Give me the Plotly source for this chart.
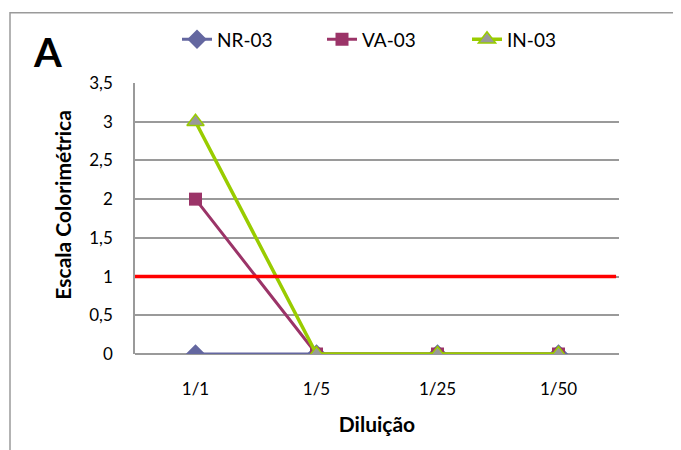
import plotly.graph_objects as go

categories = ["1/1", "1/5", "1/25", "1/50"]
nr03 = [0, 0, 0, 0]
va03 = [2, 0, 0, 0]
in03 = [3, 0, 0, 0]
threshold = 1

FONT = "Lato"
OFF = 8  # page body offset
W, H = 681 - OFF, 450 - OFF
L, T = 135 - OFF, 80 - OFF
R, B = 62, 96
pw, ph = W - L - R, H - T - B


def px(xp):  # page x -> paper x
    return (xp - OFF - L) / pw


def py(yp):  # page y -> paper y
    return (H - B - (yp - OFF)) / ph


fig = go.Figure()
fig.add_trace(go.Scatter(x=categories, y=nr03, name="NR-03", mode="lines+markers",
                         line=dict(color="#6467A0", width=3),
                         marker=dict(symbol="diamond", size=15, color="#6467A0")))
fig.add_trace(go.Scatter(x=categories, y=va03, name="VA-03", mode="lines+markers",
                         line=dict(color="#9B3468", width=3),
                         marker=dict(symbol="square", size=13, color="#9B3468")))
fig.add_trace(go.Scatter(x=categories, y=in03, name="IN-03", mode="lines+markers",
                         line=dict(color="#99CC00", width=3.5),
                         marker=dict(symbol="triangle-up", size=15, color="#999999",
                                     line=dict(color="#99CC00", width=1.5))))

fig.add_shape(type="line", xref="paper", x0=0, x1=0.994, yref="y", y0=threshold, y1=threshold,
              line=dict(color="#FF0000", width=3.5), layer="above")
# outer chart frame
fig.add_shape(type="rect", xref="paper", yref="paper",
              x0=px(10), x1=1.3, y0=-0.6, y1=py(OFF + 1),
              line=dict(color="#9A9A9A", width=1.5), layer="below")

fig.add_annotation(text="<b>A</b>", xref="paper", yref="paper",
                   x=px(47), y=py(49), showarrow=False, xanchor="center", yanchor="middle",
                   font=dict(family=FONT, size=40, color="black"))
fig.add_annotation(text="<b>Escala Colorimétrica</b>", xref="paper", yref="paper",
                   x=px(63), y=py(203), showarrow=False, xanchor="center", yanchor="middle",
                   textangle=-90, font=dict(family=FONT, size=21, color="black"))

fig.update_layout(
    width=W, height=H,
    margin=dict(l=L, r=R, t=T, b=B),
    paper_bgcolor="white", plot_bgcolor="white",
    separators=",.",
    font=dict(family=FONT, size=17, color="black"),
    showlegend=True,
    legend=dict(orientation="h", x=px(177), xanchor="left",
                y=py(36), yanchor="middle",
                font=dict(family=FONT, size=19, color="black"),
                entrywidth=100, entrywidthmode="pixels", itemwidth=30,
                bgcolor="rgba(0,0,0,0)"),
    xaxis=dict(type="category", showgrid=False, showline=False, zeroline=False,
               ticks="", tickfont=dict(family=FONT, size=17), range=[-0.5, 3.5],
               ticklabelstandoff=23,
               title=dict(text="<b>Diluição</b>", font=dict(family=FONT, size=21), standoff=19)),
    yaxis=dict(range=[0, 3.5], dtick=0.5, showgrid=True, gridcolor="#9A9A9A", gridwidth=1.5,
               showline=True, linecolor="#9A9A9A", linewidth=1.5, zeroline=True,
               zerolinecolor="#9A9A9A", zerolinewidth=1.5, ticks="",
               tickfont=dict(family=FONT, size=17), ticklabelstandoff=17),
)
fig.write_html("out.html")
